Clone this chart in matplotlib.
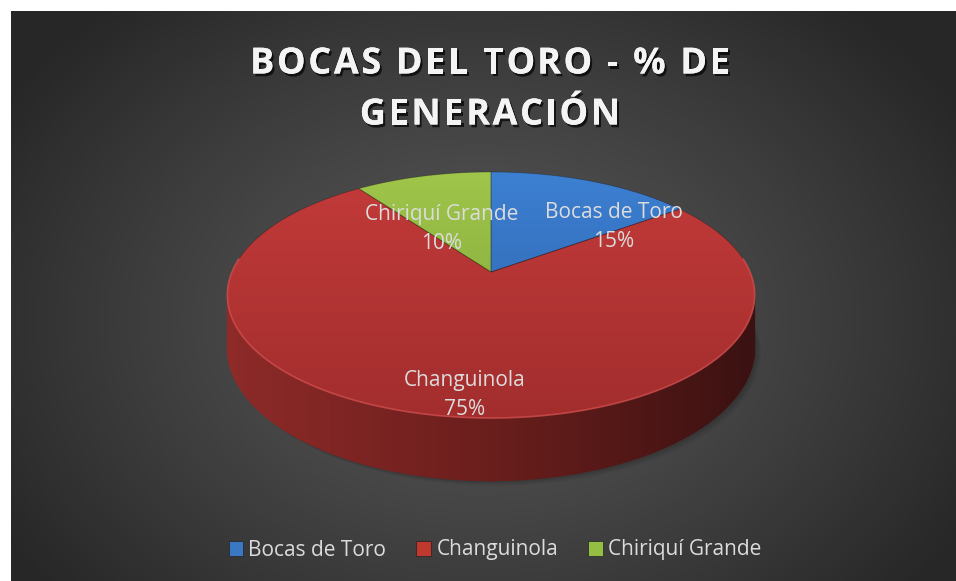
import numpy as np
import matplotlib
matplotlib.use("Agg")
import matplotlib.pyplot as plt
from matplotlib.patches import Polygon, Patch
from matplotlib.collections import PolyCollection
from matplotlib.font_manager import FontProperties
import matplotlib.patheffects as pe

# ---- data ----
title_lines = ["BOCAS DEL TORO - % DE", "GENERACIÓN"]
categories = ["Bocas de Toro", "Changuinola", "Chiriquí Grande"]
values = [15, 75, 10]
top_colors = [("#3d80d3", "#2b5fa4"), ("#c33b3a", "#a22d2d"), ("#a0c64b", "#7aa137")]
legend_colors = ["#3a78c4", "#c0392f", "#94bf44"]

W, H = 956, 581
fig = plt.figure(figsize=(W / 100, H / 100), dpi=100)
fig.patch.set_facecolor("white")
ax = fig.add_axes([0, 0, 1, 1])
ax.set_xlim(0, W)
ax.set_ylim(H, 0)
ax.axis("off")

# ---- background (radial gradient) ----
x0, y0 = 11, 11
gx, gy = np.meshgrid(np.arange(x0, W) + 0.5, np.arange(y0, H) + 0.5)
r = np.sqrt(((gx - 480) / 560.0) ** 2 + ((gy - 320) / 420.0) ** 2)
r = np.clip(r, 0, 1)
c_in, c_out = 0x58 / 255, 0x27 / 255
g = c_in + (c_out - c_in) * r ** 1.2
bg = np.dstack([g, g, g])
ax.imshow(bg, extent=(x0, W, H, y0), zorder=0, interpolation="bilinear")
ax.set_xlim(0, W)
ax.set_ylim(H, 0)

# ---- 3D pie projection ----
cx, cy = 491.0, 272.0
A, B, k, Hd = 259.0, 118.7, 0.187, 51.0


def proj(theta, depth=0.0):
    u, v = np.sin(theta), np.cos(theta)
    s = 1 + k * v
    return cx + A * u / s, cy - B * v / s + Hd * depth / s


total = float(sum(values))
bounds = np.concatenate([[0], np.cumsum(values)]) / total * 2 * np.pi

# shadow
for a, off in [(0.05, 10), (0.06, 7), (0.08, 4)]:
    t = np.linspace(0, 2 * np.pi, 300)
    sx, sy = proj(t, 1.0)
    ax.fill(sx + off * 0.6, sy + off * 0.5, color="black", alpha=a, lw=0, zorder=1)

# side (near half)
thR = np.arccos(-k)
thL = 2 * np.pi - thR
ts = np.linspace(thR, thL, 240)
side_left = np.array([142, 42, 40]) / 255
side_mid = np.array([106, 30, 28]) / 255
side_right = np.array([60, 17, 17]) / 255
polys, cols = [], []
for t1, t2 in zip(ts[:-1], ts[1:]):
    xa, ya = proj(t1)
    xb, yb = proj(t2)
    xa2, ya2 = proj(t1, 1.0)
    xb2, yb2 = proj(t2, 1.0)
    polys.append([(xa, ya), (xb, yb), (xb2, yb2), (xa2, ya2)])
    xm = (xa + xb) / 2
    f = np.clip((xm - (cx - A)) / (2 * A), 0, 1)
    if f < 0.5:
        c = side_left + (side_mid - side_left) * (f / 0.5)
    else:
        c = side_mid + (side_right - side_mid) * ((f - 0.5) / 0.5)
    cols.append(c)
pc = PolyCollection(polys, facecolors=cols, edgecolors=cols, linewidths=0.6, zorder=2)
ax.add_collection(pc)

# top faces
grad = np.linspace(0, 1, 256).reshape(-1, 1)
for i in range(len(values)):
    t = np.linspace(bounds[i], bounds[i + 1], 200)
    px, py = proj(t)
    verts = np.vstack([[cx, cy], np.column_stack([px, py])])
    poly = Polygon(verts, closed=True, facecolor="none", edgecolor="none", zorder=3)
    ax.add_patch(poly)
    c1 = np.array(matplotlib.colors.to_rgb(top_colors[i][0]))
    c2 = np.array(matplotlib.colors.to_rgb(top_colors[i][1]))
    img = c1[None, None, :] + (c2 - c1)[None, None, :] * grad[:, :, None]
    im = ax.imshow(img, extent=(cx - A - 20, cx + A + 20, cy + 150, cy - 105),
                   zorder=3, interpolation="bilinear", aspect="auto")
    im.set_clip_path(poly)
    ax.add_patch(Polygon(verts, closed=True, facecolor="none",
                         edgecolor=(0, 0, 0, 0.25), lw=0.6, zorder=4))

# rim highlight
t = np.linspace(thR - 0.3, thL + 0.3, 200)
hx, hy = proj(t)
ax.plot(hx, hy, color="#d65050", lw=1.2, alpha=0.8, zorder=5, solid_capstyle="round")
ax.set_xlim(0, W)
ax.set_ylim(H, 0)

# ---- labels ----
lab_font = dict(family=["Open Sans", "DejaVu Sans"], fontsize=15, color="#dcdcdc",
                ha="center", va="center", linespacing=1.55, zorder=6)
label_pos = [(614, 227), (465, 395), (442, 229)]
for i, name in enumerate(categories):
    ax.text(label_pos[i][0], label_pos[i][1], f"{name}\n{values[i]}%", **lab_font)

# ---- title with letter spacing ----
renderer = fig.canvas.get_renderer()
tfp = FontProperties(family=["Open Sans", "DejaVu Sans"], weight="bold", size=26)


def tw(s):
    w, h, d = renderer.get_text_width_height_descent(s, tfp, ismath=False)
    return w


tracking = 2.6
wl = tw("l")
shadow = [pe.withSimplePatchShadow(offset=(1.5, -2), shadow_rgbFace="black", alpha=0.7), pe.Normal()]
for line, yc in zip(title_lines, [60, 111]):
    n = len(line)
    total_w = tw(line) + tracking * (n - 1)
    left = 490 - total_w / 2
    for j, ch in enumerate(line):
        if ch == " ":
            continue
        xoff = (tw(line[:j] + "l") - wl) if j > 0 else 0.0
        ax.text(left + xoff + tracking * j, yc, ch, ha="left", va="center_baseline",
                fontproperties=tfp, color="#f4f4f4", path_effects=shadow, zorder=6)

# ---- legend ----
handles = [Patch(facecolor=legend_colors[i], edgecolor="#222222", lw=0.5) for i in range(3)]
leg = ax.legend(handles, categories, loc="center", bbox_to_anchor=(495 / W, 1 - 550 / H),
                ncol=3, frameon=False, handlelength=0.7, handleheight=0.7,
                handletextpad=0.25, columnspacing=1.45,
                prop={"family": ["Open Sans", "DejaVu Sans"], "size": 15})
for txt in leg.get_texts():
    txt.set_color("#dcdcdc")

fig.savefig("out.png", dpi=100, facecolor=fig.get_facecolor())
